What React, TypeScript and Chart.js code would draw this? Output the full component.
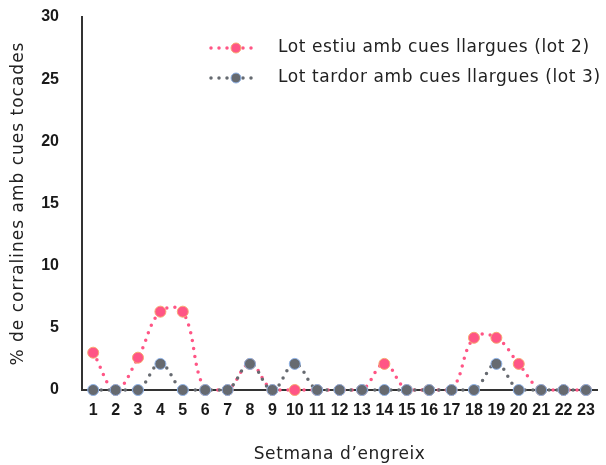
import React, { useEffect, useRef } from "react";
import { Chart, registerables } from "chart.js";

Chart.register(...registerables);

const weeks = ["1","2","3","4","5","6","7","8","9","10","11","12","13","14","15","16","17","18","19","20","21","22","23"];
const lot2Label = "Lot estiu amb cues llargues (lot 2)";
const lot3Label = "Lot tardor amb cues llargues (lot 3)";
const lot2 = [3.0, 0, 2.6, 6.3, 6.3, 0, 0, 2.1, 0, 0, 0, 0, 0, 2.1, 0, 0, 0, 4.2, 4.2, 2.1, 0, 0, 0];
const lot3 = [0, 0, 0, 2.1, 0, 0, 0, 2.1, 0, 2.1, 0, 0, 0, 0, 0, 0, 0, 0, 2.1, 0, 0, 0, 0];
const yTicks = [0, 5, 10, 15, 20, 25, 30];
const yTitle = "% de corralines amb cues tocades";
const xTitle = "Setmana d\u2019engreix";

const PINK = "#ff5585";
const PINK_BORDER = "#f7a870";
const GREY = "#666a70";
const GREY_BORDER = "#8fb2e6";
const TEXT_FONT = "'DejaVu Sans', 'Open Sans', sans-serif";
const TICK_FONT = "'Liberation Sans Narrow', 'Liberation Sans', Arial, sans-serif";

const legendPlugin = {
  id: "customLegend",
  beforeDraw(chart: any) {
    const spacing: Record<string, string> = { x: "0.6px", y: "1px" };
    for (const id of Object.keys(chart.scales)) {
      const scale = chart.scales[id];
      if (scale.__wrapped) continue;
      const orig = scale.drawTitle;
      scale.drawTitle = function (...args: any[]) {
        const ctx = this.ctx;
        ctx.save();
        (ctx as any).letterSpacing = spacing[id] || "0px";
        orig.apply(this, args);
        ctx.restore();
      };
      scale.__wrapped = true;
    }
  },
  afterDraw(chart: any) {
    const ctx = chart.ctx;
    const items = [
      { label: lot2Label, color: PINK, border: PINK_BORDER, y: 48 },
      { label: lot3Label, color: GREY, border: GREY_BORDER, y: 78 },
    ];
    ctx.save();
    for (const it of items) {
      ctx.strokeStyle = it.color;
      ctx.lineWidth = 3.5;
      ctx.lineCap = "round";
      ctx.setLineDash([0, 8]);
      ctx.beginPath();
      ctx.moveTo(211, it.y);
      ctx.lineTo(259, it.y);
      ctx.stroke();
      ctx.setLineDash([]);
      ctx.beginPath();
      ctx.arc(236, it.y, 5, 0, Math.PI * 2);
      ctx.fillStyle = it.color;
      ctx.fill();
      ctx.lineWidth = 1;
      ctx.strokeStyle = it.border;
      ctx.stroke();
      ctx.fillStyle = "#222";
      ctx.font = "17px " + TEXT_FONT;
      (ctx as any).letterSpacing = "0.6px";
      ctx.textBaseline = "middle";
      ctx.textAlign = "left";
      ctx.fillText(it.label, 278, it.y);
      (ctx as any).letterSpacing = "0px";
    }
    ctx.restore();
  },
};

export default function App() {
  const ref = useRef<HTMLCanvasElement>(null);
  useEffect(() => {
    if (!ref.current) return;
    const common = {
      pointBorderWidth: 1,
      pointRadius: 5.5,
      borderWidth: 3.5,
      borderDash: [0, 8],
      borderCapStyle: "round",
      tension: 0.4,
      clip: false,
    };
    const chart = new Chart(ref.current, {
      type: "line",
      data: {
        labels: weeks,
        datasets: [
          {
            ...common,
            label: lot2Label,
            data: lot2,
            borderColor: PINK,
            backgroundColor: PINK,
            pointBackgroundColor: PINK,
            pointBorderColor: PINK_BORDER,
            order: 1,
          } as any,
          {
            ...common,
            label: lot3Label,
            data: lot3,
            borderColor: GREY,
            backgroundColor: GREY,
            pointBackgroundColor: GREY,
            pointBorderColor: GREY_BORDER,
            order: 0,
          } as any,
        ],
      },
      options: {
        animation: false,
        responsive: true,
        maintainAspectRatio: false,
        layout: { padding: { top: 17, right: 3, left: 0, bottom: 0 } },
        plugins: {
          legend: { display: false },
          tooltip: { enabled: false },
        },
        scales: {
          x: {
            type: "category",
            offset: true,
            grid: { display: false, drawTicks: false },
            border: { display: true, color: "#333", width: 2 },
            ticks: {
              color: "#1a1a1a",
              padding: 11,
              maxRotation: 0,
              autoSkip: false,
              font: { family: TICK_FONT, size: 16, weight: "bold" },
            },
            title: {
              display: true,
              text: xTitle,
              color: "#222",
              padding: { top: 23, bottom: 0 },
              font: { family: TEXT_FONT, size: 17 },
            },
            afterFit(scale: any) {
              scale.height = 75;
            },
          },
          y: {
            min: 0,
            max: 30,
            afterBuildTicks(scale: any) {
              scale.ticks = yTicks.map((v) => ({ value: v }));
            },
            grid: { display: false, drawTicks: false },
            border: { display: true, color: "#333", width: 2 },
            ticks: {
              color: "#1a1a1a",
              padding: 23,
              font: { family: TICK_FONT, size: 16, weight: "bold" },
            },
            title: {
              display: true,
              text: yTitle,
              color: "#222",
              padding: { top: 8, bottom: 0 },
              font: { family: TEXT_FONT, size: 17 },
            },
            afterFit(scale: any) {
              scale.width = 82;
              scale.paddingTop = 0;
              scale.paddingBottom = 0;
            },
          },
        },
      },
      plugins: [legendPlugin],
    });
    return () => chart.destroy();
  }, []);
  return (
    <div style={{ position: "fixed", left: 0, top: 0, width: 606, height: 465, background: "#fff" }}>
      <canvas ref={ref} />
    </div>
  );
}
